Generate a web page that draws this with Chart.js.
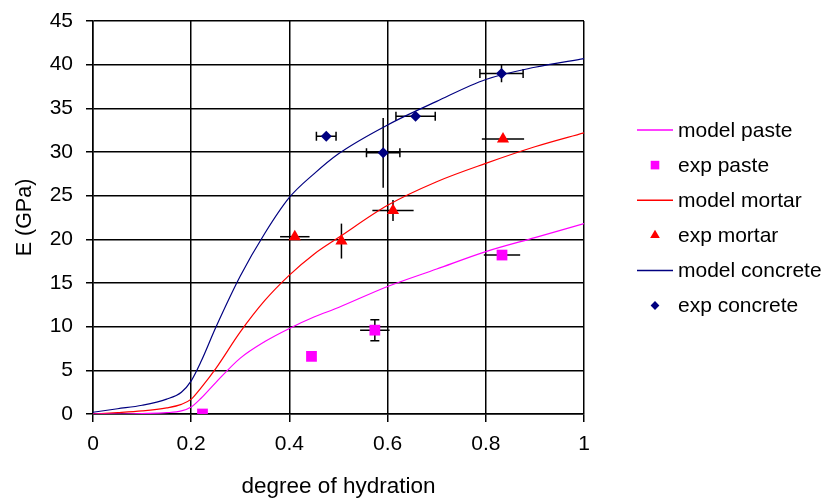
<!DOCTYPE html>
<html>
<head>
<meta charset="utf-8">
<script src="https://cdn.jsdelivr.net/npm/chart.js@4/dist/chart.umd.min.js"></script>
<style>
  body { margin: 0; background: #fff; }
  #wrap { width: 823px; height: 501px; position: relative; }
</style>
</head>
<body>
<div id="wrap"><canvas id="myChart"></canvas></div>
<script>
// model curves
const hydration     = [0, 0.05, 0.1, 0.15, 0.18, 0.2, 0.22, 0.25, 0.3, 0.35, 0.4, 0.45, 0.5, 0.6, 0.7, 0.8, 0.9, 1.0];
const modelPaste    = [0, 0, 0.05, 0.15, 0.35, 0.8, 1.8, 3.6, 6.4, 8.3, 9.8, 11.1, 12.2, 14.6, 16.6, 18.6, 20.2, 21.8];
const modelMortar   = [0, 0.15, 0.35, 0.7, 1.1, 1.7, 3.0, 5.2, 9.4, 13.0, 15.9, 18.3, 20.2, 23.9, 26.6, 28.7, 30.6, 32.2];
const modelConcrete = [0.2, 0.6, 1.0, 1.7, 2.5, 3.8, 6.0, 9.9, 15.8, 20.7, 24.8, 27.5, 29.8, 33.1, 35.8, 38.3, 39.7, 40.7];

// experiments with error bars
const pasteX    = [0.223, 0.445, 0.574, 0.833];
const pasteE    = [0, 6.6, 9.6, 18.2];
const pasteXErr = [0, 0, 0.03, 0.037];
const pasteEErr = [0, 0, 1.2, 0];

const mortarX    = [0.411, 0.506, 0.611, 0.835];
const mortarE    = [20.3, 19.8, 23.3, 31.5];
const mortarXErr = [0.03, 0, 0.042, 0.043];
const mortarEErr = [0, 2.0, 1.2, 0];

const concreteX    = [0.475, 0.591, 0.657, 0.832];
const concreteE    = [31.8, 29.9, 34.1, 39.0];
const concreteXErr = [0.02, 0.034, 0.04, 0.044];
const concreteEErr = [0, 4.0, 0, 1.0];

const xTicks = [0, 0.2, 0.4, 0.6, 0.8, 1];
const yTicks = [0, 5, 10, 15, 20, 25, 30, 35, 40, 45];

function pts(xs, ys) {
    return xs.map(function (x, i) { return { x: x, y: ys[i] }; });
}

Chart.defaults.font.family = "'Liberation Sans', Arial, sans-serif";
Chart.defaults.color = '#000';

// error bars drawn under the markers
const errorBars = {
    id: 'errorBars',
    beforeDatasetsDraw(chart) {
        const ctx = chart.ctx;
        const xs = chart.scales.x, ys = chart.scales.y;
        ctx.save();
        ctx.strokeStyle = '#000';
        ctx.lineWidth = 1.5;
        chart.data.datasets.forEach(function (ds) {
            if (!ds.xErr) return;
            ds.data.forEach(function (p, i) {
                const px = xs.getPixelForValue(p.x), py = ys.getPixelForValue(p.y);
                const dx = ds.xErr[i], dy = ds.yErr[i];
                ctx.beginPath();
                if (dx) {
                    const a = xs.getPixelForValue(p.x - dx), b = xs.getPixelForValue(p.x + dx);
                    ctx.moveTo(a, py); ctx.lineTo(b, py);
                    if (ds.capX) {
                        ctx.moveTo(a, py - 4.5); ctx.lineTo(a, py + 4.5);
                        ctx.moveTo(b, py - 4.5); ctx.lineTo(b, py + 4.5);
                    }
                }
                if (dy) {
                    const a = ys.getPixelForValue(p.y - dy), b = ys.getPixelForValue(p.y + dy);
                    ctx.moveTo(px, a); ctx.lineTo(px, b);
                    if (ds.capY) {
                        ctx.moveTo(px - 4.5, a); ctx.lineTo(px + 4.5, a);
                        ctx.moveTo(px - 4.5, b); ctx.lineTo(px + 4.5, b);
                    }
                }
                ctx.stroke();
            });
        });
        ctx.restore();
    }
};

function marker(ctx, style, x, y, r) {
    ctx.beginPath();
    if (style === 'rect') {
        const s = r * Math.SQRT1_2;
        ctx.rect(x - s, y - s, 2 * s, 2 * s);
    } else if (style === 'triangle') {
        ctx.moveTo(x, y - r);
        ctx.lineTo(x + 0.866 * r, y + 0.5 * r);
        ctx.lineTo(x - 0.866 * r, y + 0.5 * r);
        ctx.closePath();
    } else {
        ctx.moveTo(x - r, y); ctx.lineTo(x, y - r);
        ctx.lineTo(x + r, y); ctx.lineTo(x, y + r);
        ctx.closePath();
    }
    ctx.fill();
}

// legend on the right, drawn by hand
const sideLegend = {
    id: 'sideLegend',
    afterDraw(chart) {
        const ctx = chart.ctx;
        ctx.save();
        ctx.font = "21px 'Liberation Sans', Arial, sans-serif";
        ctx.textBaseline = 'middle';
        ctx.fillStyle = '#000';
        chart.data.datasets.forEach(function (ds, i) {
            const y = 130 + i * 35.1;
            if (ds.showLine === false) {
                ctx.fillStyle = ds.backgroundColor;
                marker(ctx, ds.pointStyle, 655, y, ds.pointRadius * 0.8);
            } else {
                ctx.strokeStyle = ds.borderColor;
                ctx.lineWidth = 1.5;
                ctx.beginPath();
                ctx.moveTo(637, y); ctx.lineTo(673, y);
                ctx.stroke();
            }
            ctx.fillStyle = '#000';
            ctx.fillText(ds.label, 678, y + 1);
        });
        ctx.restore();
    }
};

function model(label, ys, color) {
    return {
        label: label,
        data: pts(hydration, ys),
        showLine: true,
        borderColor: color,
        borderWidth: 1.2,
        pointRadius: 0,
        cubicInterpolationMode: 'monotone'
    };
}

function exp(label, xs, ys, xe, ye, color, style, r, capX, capY) {
    return {
        label: label,
        data: pts(xs, ys),
        showLine: false,
        backgroundColor: color,
        borderColor: color,
        borderWidth: 0,
        pointStyle: style,
        pointRadius: r,
        xErr: xe, yErr: ye, capX: capX, capY: capY
    };
}

const data = {
    datasets: [
        model('model paste', modelPaste, '#ff00ff'),
        exp('exp paste', pasteX, pasteE, pasteXErr, pasteEErr, '#ff00ff', 'rect', 7.6, false, true),
        model('model mortar', modelMortar, '#ff0000'),
        exp('exp mortar', mortarX, mortarE, mortarXErr, mortarEErr, '#ff0000', 'triangle', 7, false, false),
        model('model concrete', modelConcrete, '#000080'),
        exp('exp concrete', concreteX, concreteE, concreteXErr, concreteEErr, '#000080', 'rectRot', 5.5, true, false)
    ]
};

const config = {
    type: 'scatter',
    data: data,
    plugins: [errorBars, sideLegend],
    options: {
        responsive: true,
        maintainAspectRatio: false,
        animation: false,
        layout: { padding: { left: 0, top: 21, right: 239, bottom: 0 } },
        plugins: { legend: { display: false }, tooltip: { enabled: false } },
        scales: {
            x: {
                type: 'linear', min: 0, max: 1,
                afterFit: function (s) { s.height = 87; },
                afterBuildTicks: function (s) { s.ticks = xTicks.map(function (v) { return { value: v }; }); },
                grid: { color: '#000', lineWidth: 1.5, tickLength: 8 },
                border: { color: '#000', width: 1.5 },
                ticks: { font: { size: 21 }, color: '#000', padding: 10, maxRotation: 0,
                         callback: function (v) { return String(v); } },
                title: { display: true, text: 'degree of hydration', font: { size: 22.5 }, color: '#000', padding: { top: 4, bottom: 1 } }
            },
            y: {
                type: 'linear', min: 0, max: 45,
                afterFit: function (s) { s.width = 93; s.paddingTop = 10; s.paddingBottom = 10; },
                afterBuildTicks: function (s) { s.ticks = yTicks.map(function (v) { return { value: v }; }); },
                grid: { color: '#000', lineWidth: 1.5, tickLength: 7 },
                border: { color: '#000', width: 1.5 },
                ticks: { font: { size: 21 }, color: '#000', padding: 13 },
                title: { display: true, text: 'E (GPa)', font: { size: 21.5 }, color: '#000', padding: { top: 12, bottom: 0 } }
            }
        }
    }
};

const myChart = new Chart(document.getElementById('myChart'), config);
</script>
</body>
</html>
